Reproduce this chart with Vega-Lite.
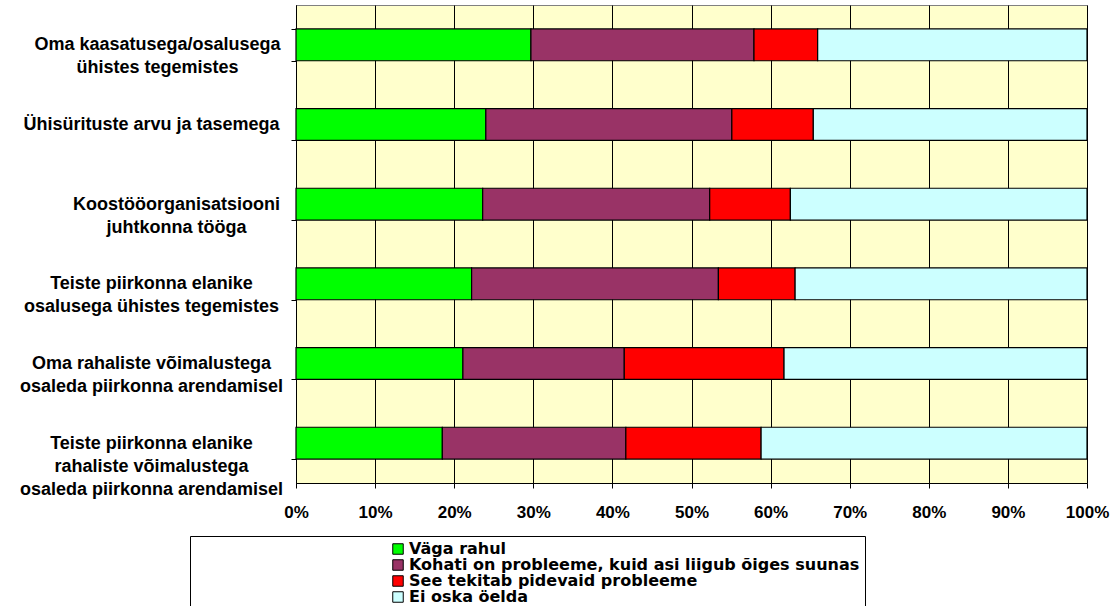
{
  "$schema": "https://vega.github.io/schema/vega-lite/v6.json",
  "autosize": "none",
  "width": 791,
  "height": 478,
  "padding": {"left": 296, "top": 5, "right": 31, "bottom": 123},
  "background": "white",
  "config": {
    "font": "Liberation Sans",
    "view": {"fill": "#FFFFCC", "stroke": "#808080", "strokeWidth": 1}
  },
  "data": {
    "values": [
      {"cat": "Oma kaasatusega/osalusega|ühistes tegemistes", "resp": "Väga rahul", "k": 1, "v": 29.7},
      {"cat": "Oma kaasatusega/osalusega|ühistes tegemistes", "resp": "Kohati on probleeme, kuid asi liigub õiges suunas", "k": 2, "v": 28.2},
      {"cat": "Oma kaasatusega/osalusega|ühistes tegemistes", "resp": "See tekitab pidevaid probleeme", "k": 3, "v": 8.05},
      {"cat": "Oma kaasatusega/osalusega|ühistes tegemistes", "resp": "Ei oska öelda", "k": 4, "v": 34.05},
      {"cat": "Ühisürituste arvu ja tasemega", "resp": "Väga rahul", "k": 1, "v": 24.0},
      {"cat": "Ühisürituste arvu ja tasemega", "resp": "Kohati on probleeme, kuid asi liigub õiges suunas", "k": 2, "v": 31.1},
      {"cat": "Ühisürituste arvu ja tasemega", "resp": "See tekitab pidevaid probleeme", "k": 3, "v": 10.3},
      {"cat": "Ühisürituste arvu ja tasemega", "resp": "Ei oska öelda", "k": 4, "v": 34.6},
      {"cat": "Koostööorganisatsiooni|juhtkonna tööga", "resp": "Väga rahul", "k": 1, "v": 23.6},
      {"cat": "Koostööorganisatsiooni|juhtkonna tööga", "resp": "Kohati on probleeme, kuid asi liigub õiges suunas", "k": 2, "v": 28.7},
      {"cat": "Koostööorganisatsiooni|juhtkonna tööga", "resp": "See tekitab pidevaid probleeme", "k": 3, "v": 10.2},
      {"cat": "Koostööorganisatsiooni|juhtkonna tööga", "resp": "Ei oska öelda", "k": 4, "v": 37.5},
      {"cat": "Teiste piirkonna elanike|osalusega ühistes tegemistes", "resp": "Väga rahul", "k": 1, "v": 22.2},
      {"cat": "Teiste piirkonna elanike|osalusega ühistes tegemistes", "resp": "Kohati on probleeme, kuid asi liigub õiges suunas", "k": 2, "v": 31.2},
      {"cat": "Teiste piirkonna elanike|osalusega ühistes tegemistes", "resp": "See tekitab pidevaid probleeme", "k": 3, "v": 9.7},
      {"cat": "Teiste piirkonna elanike|osalusega ühistes tegemistes", "resp": "Ei oska öelda", "k": 4, "v": 36.9},
      {"cat": "Oma rahaliste võimalustega|osaleda piirkonna arendamisel", "resp": "Väga rahul", "k": 1, "v": 21.1},
      {"cat": "Oma rahaliste võimalustega|osaleda piirkonna arendamisel", "resp": "Kohati on probleeme, kuid asi liigub õiges suunas", "k": 2, "v": 20.4},
      {"cat": "Oma rahaliste võimalustega|osaleda piirkonna arendamisel", "resp": "See tekitab pidevaid probleeme", "k": 3, "v": 20.2},
      {"cat": "Oma rahaliste võimalustega|osaleda piirkonna arendamisel", "resp": "Ei oska öelda", "k": 4, "v": 38.3},
      {"cat": "Teiste piirkonna elanike|rahaliste võimalustega|osaleda piirkonna arendamisel", "resp": "Väga rahul", "k": 1, "v": 18.5},
      {"cat": "Teiste piirkonna elanike|rahaliste võimalustega|osaleda piirkonna arendamisel", "resp": "Kohati on probleeme, kuid asi liigub õiges suunas", "k": 2, "v": 23.2},
      {"cat": "Teiste piirkonna elanike|rahaliste võimalustega|osaleda piirkonna arendamisel", "resp": "See tekitab pidevaid probleeme", "k": 3, "v": 17.1},
      {"cat": "Teiste piirkonna elanike|rahaliste võimalustega|osaleda piirkonna arendamisel", "resp": "Ei oska öelda", "k": 4, "v": 41.2}
    ]
  },
  "mark": {"type": "bar", "stroke": "black", "strokeWidth": 1.2},
  "encoding": {
    "y": {
      "field": "cat",
      "type": "nominal",
      "sort": null,
      "scale": {"paddingInner": 0.6, "paddingOuter": 0.3},
      "axis": {
        "title": null,
        "labelExpr": "split(datum.label, '|')",
        "labelFont": "Liberation Sans",
        "labelFontSize": 18,
        "labelFontWeight": "bold",
        "labelColor": "black",
        "labelLineHeight": 23,
        "labelAlign": "center",
        "labelBaseline": "middle",
        "labelLimit": 400,
        "labelPadding": {
          "condition": [
            {"test": "datum.value == 'Koostööorganisatsiooni|juhtkonna tööga'", "value": 115},
            {"test": "datum.value == 'Oma kaasatusega/osalusega|ühistes tegemistes'", "value": 134}
          ],
          "value": 140
        },
        "tickBand": "extent",
        "ticks": true,
        "tickSize": 5,
        "tickColor": "black",
        "domainColor": "black",
        "grid": false
      }
    },
    "x": {
      "field": "v",
      "type": "quantitative",
      "aggregate": "sum",
      "stack": "normalize",
      "scale": {"domain": [0, 1]},
      "axis": {
        "title": null,
        "format": ".0%",
        "values": [0, 0.1, 0.2, 0.3, 0.4, 0.5, 0.6, 0.7, 0.8, 0.9, 1],
        "labelFont": "Liberation Sans",
        "labelFontSize": 17,
        "labelFontWeight": "bold",
        "labelColor": "black",
        "labelPadding": 16,
        "labelFlush": false,
        "tickSize": 5,
        "tickColor": "black",
        "domainColor": "black",
        "grid": true,
        "gridColor": "black",
        "gridOpacity": 1,
        "gridWidth": 1
      }
    },
    "color": {
      "field": "resp",
      "type": "nominal",
      "sort": ["Väga rahul", "Kohati on probleeme, kuid asi liigub õiges suunas", "See tekitab pidevaid probleeme", "Ei oska öelda"],
      "scale": {
        "domain": ["Väga rahul", "Kohati on probleeme, kuid asi liigub õiges suunas", "See tekitab pidevaid probleeme", "Ei oska öelda"],
        "range": ["#00FF00", "#993366", "#FF0000", "#CCFFFF"]
      },
      "legend": {
        "orient": "none",
        "legendX": -106,
        "legendY": 531,
        "title": "\u00a0",
        "titleOrient": "left",
        "titlePadding": 195,
        "titleFontSize": 10,
        "padding": 5,
        "strokeColor": "black",
        "fillColor": "white",
        "symbolType": "square",
        "symbolSize": 110,
        "symbolStrokeColor": "black",
        "symbolStrokeWidth": 1,
        "symbolOpacity": 1,
        "labelFont": "DejaVu Sans",
        "labelFontSize": 16,
        "labelFontWeight": "bold",
        "labelColor": "black",
        "labelOffset": 3,
        "labelLimit": 600,
        "rowPadding": 0
      }
    },
    "order": {"field": "k", "type": "quantitative"}
  }
}
